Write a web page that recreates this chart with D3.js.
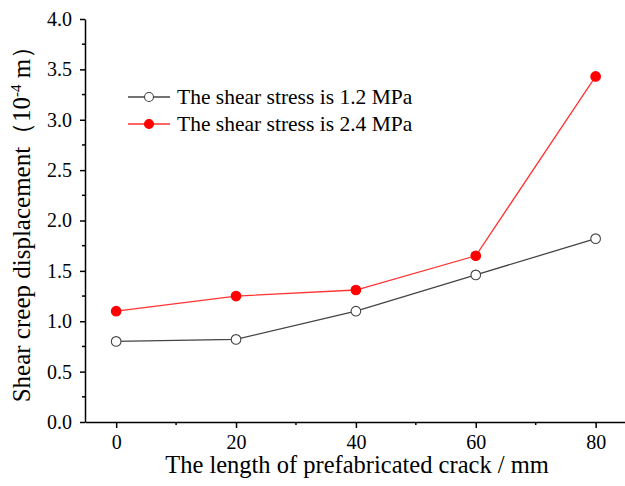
<!DOCTYPE html>
<html>
<head>
<meta charset="utf-8">
<script src="https://cdn.jsdelivr.net/npm/d3@7"></script>
<style>
  body { margin: 0; background: #fff; }
  svg text { font-family: "Liberation Serif", "Times New Roman", serif; }
</style>
</head>
<body>
<div id="chart"></div>
<script>
let crackLength = [0, 20, 40, 60, 80];
let stress12 = [0.80, 0.82, 1.10, 1.46, 1.82];
let stress24 = [1.10, 1.25, 1.31, 1.65, 3.43];
let seriesNames = ["The shear stress is 1.2 MPa", "The shear stress is 2.4 MPa"];
let yTicks = [0, 0.5, 1.0, 1.5, 2.0, 2.5, 3.0, 3.5, 4.0];
let xTicks = [0, 20, 40, 60, 80];

let width = 625, height = 486;
let margin = { top: 19, right: 0, bottom: 64, left: 85 };
let serif = "'Liberation Serif', 'Times New Roman', serif";

const svg = d3.select("#chart").append("svg")
  .attr("width", width)
  .attr("height", height)
  .attr("font-family", serif);

let x = d3.scaleLinear()
  .domain([-5.2, 84.9])
  .range([margin.left, width - margin.right]);

let y = d3.scaleLinear()
  .domain([0, 4])
  .range([height - margin.bottom, margin.top]);

// y axis
let yAxis = d3.axisLeft(y)
  .tickValues(yTicks)
  .tickFormat(d3.format(".1f"))
  .tickSize(5)
  .tickSizeOuter(0)
  .tickPadding(8);
let gy = svg.append("g")
  .attr("transform", `translate(${margin.left},0)`)
  .call(yAxis)
  .attr("font-family", serif);
gy.selectAll("text").style("font-size", "20px").attr("fill", "#000");
gy.select(".domain").attr("stroke-width", 1.5);
gy.selectAll(".tick line").attr("stroke-width", 1.5);
// minor y ticks
svg.append("g").selectAll("line")
  .data(d3.range(0.25, 4, 0.5))
  .join("line")
  .attr("x1", margin.left - 3).attr("x2", margin.left)
  .attr("y1", d => y(d)).attr("y2", d => y(d))
  .attr("stroke", "#000").attr("stroke-width", 1.5);

// x axis
let xAxis = d3.axisBottom(x)
  .tickValues(xTicks)
  .tickSize(6)
  .tickSizeOuter(0)
  .tickPadding(7);
let gx = svg.append("g")
  .attr("transform", `translate(0,${y(0)})`)
  .call(xAxis)
  .attr("font-family", serif);
gx.selectAll("text").style("font-size", "20px").attr("fill", "#000");
gx.select(".domain").attr("stroke-width", 1.5);
gx.selectAll(".tick line").attr("stroke-width", 1.5);
svg.append("g").selectAll("line")
  .data([10, 30, 50, 70])
  .join("line")
  .attr("x1", d => x(d)).attr("x2", d => x(d))
  .attr("y1", y(0)).attr("y2", y(0) + 3)
  .attr("stroke", "#000").attr("stroke-width", 1.5);

// axis titles
svg.append("text")
  .attr("x", 357).attr("y", 473)
  .attr("text-anchor", "middle")
  .style("font-size", "24.5px")
  .text("The length of prefabricated crack / mm");

let yt = svg.append("text")
  .attr("transform", `translate(30,218) rotate(-90)`)
  .attr("text-anchor", "middle")
  .style("font-size", "25px");
yt.append("tspan").text("Shear creep displacement（10");
yt.append("tspan").attr("dy", -9).style("font-size", "15px").text("-4");
yt.append("tspan").attr("dy", 9).text(" m）");

// series
let series = [
  { name: seriesNames[0], values: stress12, color: "#444", fill: "#fff" },
  { name: seriesNames[1], values: stress24, color: "#ff3333", fill: "#ff0000" }
];

let line = d3.line()
  .x((d, i) => x(crackLength[i]))
  .y(d => y(d));

series.forEach(s => {
  svg.append("path")
    .datum(s.values)
    .attr("d", line)
    .attr("fill", "none")
    .attr("stroke", s.color)
    .attr("stroke-width", 1.3);
  svg.append("g").selectAll("circle")
    .data(s.values)
    .join("circle")
    .attr("cx", (d, i) => x(crackLength[i]))
    .attr("cy", d => y(d))
    .attr("r", 4.8)
    .attr("fill", s.fill)
    .attr("stroke", s.fill === "#fff" ? s.color : s.fill)
    .attr("stroke-width", 1.1);
});

// legend
let legend = svg.append("g");
series.forEach((s, i) => {
  let ly = 97 + i * 27;
  legend.append("line")
    .attr("x1", 128).attr("x2", 170)
    .attr("y1", ly).attr("y2", ly)
    .attr("stroke", s.color).attr("stroke-width", 1.3);
  legend.append("circle")
    .attr("cx", 149).attr("cy", ly).attr("r", 4.5)
    .attr("fill", s.fill)
    .attr("stroke", s.fill === "#fff" ? s.color : s.fill)
    .attr("stroke-width", 1.1);
  legend.append("text")
    .attr("x", 177).attr("y", ly + 7)
    .style("font-size", "21.5px")
    .text(s.name);
});
</script>
</body>
</html>
